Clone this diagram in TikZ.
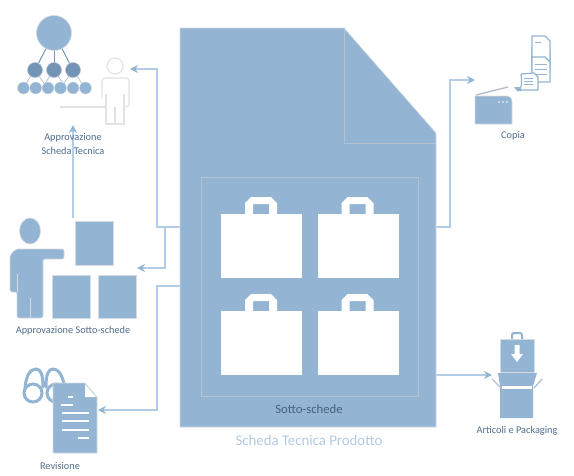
\documentclass[tikz,border=0pt]{standalone}
\usepackage{fontspec}
\setmainfont{Carlito}
\definecolor{Steel}{HTML}{93B4D2}
\definecolor{SteelDark}{HTML}{7394B4}
\definecolor{Wire}{HTML}{B4CDE6}
\definecolor{Rim}{HTML}{D4DBE3}
\definecolor{Fold}{HTML}{B3C2D3}
\definecolor{Ghost}{HTML}{E2E2E2}
\definecolor{Caption}{HTML}{4F6C8C}
\definecolor{PaleCaption}{HTML}{B2CAE1}
\usetikzlibrary{arrows.meta,positioning}
\tikzset{
  solid/.style={fill=Steel,draw=Rim,line width=0.6pt},
  wire/.style={draw=Wire,line width=1.2pt},
  arrow/.style={wire,-{Stealth[length=8pt,width=8pt,color=Steel]}},
  ghost/.style={draw=Ghost,line width=1.1pt,fill=white},
  foldline/.style={draw=Fold,line width=0.8pt},
  paper/.style={draw=Steel,line width=1.2pt,fill=white},
  blank/.style={draw=white,line width=1.2pt},
  caption/.style={font=\fontsize{10.3}{14}\selectfont,text=Caption,align=center,inner sep=0pt}
}
\begin{document}
\begin{tikzpicture}[x=1pt,y=-1pt]
  \useasboundingbox (0,0) rectangle (574,475);
  % arrows first, the sheet lies over them
  \coordinate (sheetA) at (180,227);
  \coordinate (sheetB) at (180,286);
  \coordinate (sheetC) at (436,227);
  \coordinate (sheetD) at (436,375);
  \coordinate (split) at (165,227);
  \coordinate (person) at (130,69);
  \coordinate (boxes) at (137,268);
  \coordinate (glasses) at (98,410);
  \coordinate (scan) at (475,80);
  \coordinate (pack) at (492,375);
  \coordinate (boxtop) at (73,218);
  \coordinate (approval) at (73,125);
  \draw[arrow] (sheetA) -| (157,69) -- (person);
  \draw[arrow] (split) |- (boxes);
  \draw[arrow] (sheetB) -| (157,410) -- (glasses);
  \draw[arrow] (sheetC) -| (450,80) -- (scan);
  \draw[arrow] (sheetD) -- (pack);
  \draw[arrow] (boxtop) -- (approval);

  % sheet
  \draw[solid] (180,28) -- (344,28) -- (436,133) -- (436,427) -- (180,427) -- cycle;
  \draw[foldline] (344,28) -- (344,143) -- (436,143);
  \draw[foldline] (201,177) rectangle (418,396);
  \foreach \bx/\by in {221/214,317.5/214,221/311,317.5/311}{
    \fill[white] (\bx,\by) rectangle ++(81,64);
    \fill[white,even odd rule] (\bx+24,\by) -- ++(0,-11) -- ++(6,-6) -- ++(20,0) -- ++(6,6) -- ++(0,11) -- cycle
      (\bx+32,\by) rectangle ++(16,-10);
  }
  \node[font=\fontsize{12.7}{15}\selectfont,text=Caption!90!black,inner sep=0pt] (subsheets) at (309,409) {Sotto-schede};
  \node[below=31pt of subsheets.center,anchor=center,font=\fontsize{14.8}{17}\selectfont,text=PaleCaption,inner sep=0pt] (sheet) {Scheda Tecnica Prodotto};

  % organisation and approver
  \foreach \mx in {35,54,73}{
    \draw[draw=SteelDark,line width=1pt] (54,33) -- (\mx,70);
    \draw[draw=Fold,line width=0.8pt] (\mx,70) -- (\mx-12,88) (\mx,70) -- (\mx+12,88);
  }
  \fill[Steel,draw=Rim,line width=0.6pt] (54,33) circle (17.5);
  \foreach \mx in {35,54,73}
    \fill[SteelDark,draw=Fold,line width=0.5pt] (\mx,70) circle (7.5);
  \foreach \sx in {23.5,35.7,48,60.5,73,85.5}
    \fill[Steel,draw=Rim,line width=0.4pt] (\sx,88) circle (6);
  \draw[ghost] (115,66) circle (8);
  \draw[ghost,rounded corners=3pt] (102,107) -- (102,78) -- (129,78) -- (129,107) -- (124,107);
  \draw[ghost] (60,107) -- (106,107) -- (106,124) -- (124,124) -- (124,94);
  \draw[ghost] (106,94) -- (106,107) (115,107) -- (115,124);
  \node[caption] (approvalcard) at (73,144) {Approvazione\\Scheda Tecnica};

  % sub-sheet approval
  \fill[Steel,draw=Rim,line width=0.6pt] (30,231) ellipse (10.5 and 13);
  \draw[solid,rounded corners=2pt] (10,292) -- (10,255) -- (16,249) -- (64,249) -- (64,259) -- (43,259) -- (43,318) -- (17,318) -- (17,292) -- cycle;
  \draw[draw=Rim,line width=0.6pt] (17,274) -- (17,292) (30,298) -- (30,318);
  \draw[solid] (75,221) rectangle (113,265);
  \draw[solid] (52,275) rectangle (90,318);
  \draw[solid] (98,275) rectangle (136,318);
  \node[caption] (subapproval) at (73,331) {Approvazione Sotto-schede};

  % review
  \foreach \gx in {33,56}
    \draw[draw=Steel,line width=3pt] (\gx,393) circle (9);
  \draw[draw=Steel,line width=3pt,line cap=round] (25,388) .. controls (26,376) and (30,369) .. (36,369) .. controls (41,369) and (43,375) .. (43,387)
    (46,387) .. controls (46,375) and (48,369) .. (53,369) .. controls (58,369) and (62,374) .. (65,387);
  \draw[solid] (53,383) -- (85,383) -- (97,397) -- (97,453) -- (53,453) -- cycle;
  \fill[white] (85,384) -- (96,397) -- (85,397) -- cycle;
  \draw[blank] (68,397) -- (73,397) (61,405) -- (73,405);
  \foreach \ly in {413,421,430}
    \draw[blank] (62,\ly) -- (89,\ly);
  \draw[blank] (78,438) -- (89,438);
  \node[caption] (review) at (60,465.5) {Revisione};

  % copy
  \draw[solid] (475,124) -- (475,96) -- (506,96) .. controls (510,96) and (512,98) .. (512,102) -- (512,124) -- cycle;
  \draw[draw=Fold!90!gray,line width=1.3pt] (476,95) -- (508,87);
  \foreach \dx in {499,503,507}
    \fill[white] (\dx,102) circle (0.8);
  \foreach \py in {47,36}{
    \draw[paper] (532,\py) -- (545,\py) -- (550,\py+5) -- (550,\py+25) -- (532,\py+25) -- cycle;
    \draw[draw=Steel,line width=0.8pt] (535,\py+6) -- (541,\py+6);
  }
  \draw[paper] (532,57) -- (545,57) -- (550,62) -- (550,82) -- (532,82) -- cycle;
  \foreach \ly in {64,69,74}
    \draw[draw=Steel,line width=0.8pt] (535,\ly) -- (547,\ly);
  \fill[Steel] (514,87) -- (522,87) -- (522,91) -- (517,91) -- cycle;
  \draw[paper] (521,74) -- (534,73) -- (538,77) -- (538,90) -- (520,90) .. controls (522,85) and (522,80) .. (521,74);
  \foreach \ly in {78,81,84}
    \draw[draw=Steel,line width=0.8pt] (524,\ly) -- (533,\ly);
  \node[caption] (copy) at (513,135.5) {Copia};

  % articles and packaging
  \draw[draw=Steel,line width=2pt,rounded corners=2pt] (512,339) -- (512,333) -- (522,333) -- (522,339);
  \draw[solid] (500,339) rectangle (534,372);
  \fill[white] (514.5,345) -- (519.5,345) -- (519.5,354) -- (523,354) -- (517,362) -- (511,354) -- (514.5,354) -- cycle;
  \fill[Steel] (498,373) -- (537,373) -- (533,386) -- (533,418) -- (500,418) -- (500,386) -- cycle;
  \fill[white] (502,386) rectangle (532,389);
  \draw[draw=Fold,line width=1.4pt] (492,379) -- (501,388) (542,379) -- (534,388);
  \node[caption] (goods) at (517,431) {Articoli e Packaging};
\end{tikzpicture}
\end{document}
